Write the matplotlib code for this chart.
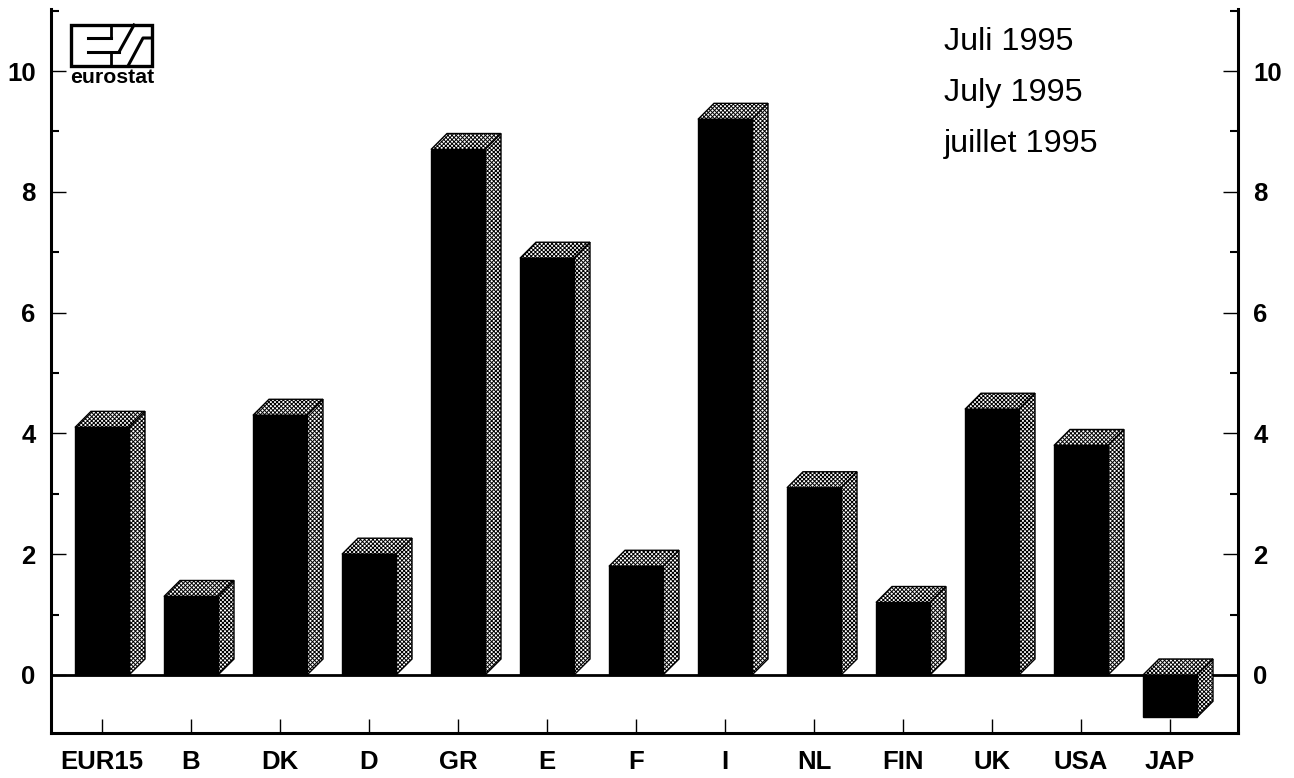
#!/usr/bin/env python3
"""Eurostat bar chart, July 1995, with fake 3D bars."""

import matplotlib
matplotlib.use('Agg')
import matplotlib.pyplot as plt
from matplotlib.patches import Polygon, Rectangle
from matplotlib.ticker import MultipleLocator

countries = ['EUR15', 'B', 'DK', 'D', 'GR', 'E', 'F', 'I', 'NL', 'FIN', 'UK', 'USA', 'JAP']
values = [4.1, 1.3, 4.3, 2.0, 8.7, 6.9, 1.8, 9.2, 3.1, 1.2, 4.4, 3.8, -0.7]
y_ticks = [0, 2, 4, 6, 8, 10]
date_labels = ['Juli 1995', 'July 1995', 'juillet 1995']

W, H = 1294, 778
plt.rcParams['font.family'] = ['Liberation Sans', 'DejaVu Sans']
plt.rcParams['hatch.linewidth'] = 0.7

fig = plt.figure(figsize=(W / 100, H / 100), dpi=100)
ax = fig.add_axes([51 / W, 1 - 733 / H, (1238 - 51) / W, (733 - 9) / H])

step_px = 89.0
unit_px = 60.4
ax.set_xlim(-51 / step_px, 12 + 68 / step_px)
ax.set_ylim(-58 / unit_px, 666 / unit_px)

bar_w = 54 / step_px
dx = 16 / step_px
dy = 16 / unit_px


def shade(pts):
    ax.add_patch(Polygon(pts, closed=True, facecolor='white', edgecolor='black',
                         hatch='xxxxxxxx', linewidth=1.0, zorder=3))


ax.axhline(0, color='black', linewidth=2, zorder=2)
for i, v in enumerate(values):
    x0 = i - bar_w / 2
    x1 = x0 + bar_w
    top = max(v, 0)
    bot = min(v, 0)
    shade([(x0, top), (x0 + dx, top + dy), (x1 + dx, top + dy), (x1, top)])
    shade([(x1, bot), (x1 + dx, bot + dy), (x1 + dx, top + dy), (x1, top)])
    ax.add_patch(Rectangle((x0, bot), bar_w, top - bot, facecolor='black',
                           edgecolor='black', linewidth=1, zorder=4))

ax.set_xticks(range(len(countries)))
ax.set_xticklabels(countries, fontsize=18.5, fontweight='bold')
ax.set_yticks(y_ticks)
ax.set_yticklabels(y_ticks, fontsize=18.5, fontweight='bold')
ax.yaxis.set_minor_locator(MultipleLocator(1))
ax.tick_params(axis='x', direction='in', length=10, width=1, pad=12)
ax.tick_params(axis='y', which='major', direction='in', length=10.8, width=1, pad=11,
               left=True, right=True, labelleft=True, labelright=True)
ax.tick_params(axis='y', which='minor', direction='in', length=5.8, width=1.5,
               left=True, right=True)
for spine in ax.spines.values():
    spine.set_linewidth(2.2)
ax.spines['top'].set_visible(False)

for label, py in zip(date_labels, [42, 93, 144]):
    fig.text(944 / W, 1 - py / H, label, fontsize=23.3, ha='left', va='center')

# logo, drawn in pixel coordinates
logo = fig.add_axes([0, 0, 1, 1], facecolor='none')
logo.set_xlim(0, W)
logo.set_ylim(H, 0)
logo.axis('off')
logo.add_patch(Rectangle((71, 25), 81, 41, facecolor='white', edgecolor='black', linewidth=2.4))
logo.plot([111, 111], [25, 38], color='black', linewidth=2)
logo.plot([111, 111], [52, 66], color='black', linewidth=2)
logo.plot([88, 111], [38, 38], color='black', linewidth=2.2)
logo.plot([88, 119], [52, 52], color='black', linewidth=2.2)
logo.plot([119, 134], [52, 25], color='black', linewidth=2.2)
logo.plot([128, 143, 152], [66, 38, 38], color='black', linewidth=2.2)
logo.text(112, 77, 'eurostat', fontsize=15.3, fontweight='bold', ha='center', va='center')

fig.savefig('out.png', dpi=100)
